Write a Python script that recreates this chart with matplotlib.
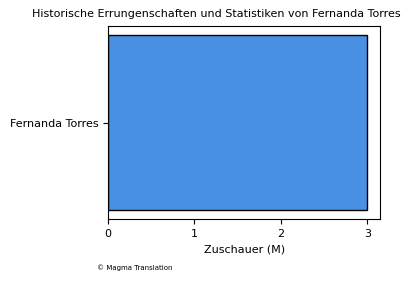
import matplotlib
matplotlib.use("Agg")
import matplotlib.pyplot as plt

# Daten
names = ["Fernanda Torres"]
zuschauer = [3]

fig, ax = plt.subplots(figsize=(4.11, 2.82), dpi=100)
fig.subplots_adjust(left=0.263, right=0.925, bottom=0.223, top=0.908)

ax.barh(names, zuschauer, color="#4a90e2", edgecolor="black", linewidth=1)
ax.set_xlabel("Zuschauer (M)", fontsize=8)
fig.text(0.527, 0.95, "Historische Errungenschaften und Statistiken von Fernanda Torres",
         fontsize=8, ha="center", va="center")
ax.tick_params(labelsize=8)
ax.set_xticks([0, 1, 2, 3])

fig.text(0.237, 0.05, "© Magma Translation", fontsize=5, ha="left", va="center")

plt.savefig("out.png", dpi=100)
